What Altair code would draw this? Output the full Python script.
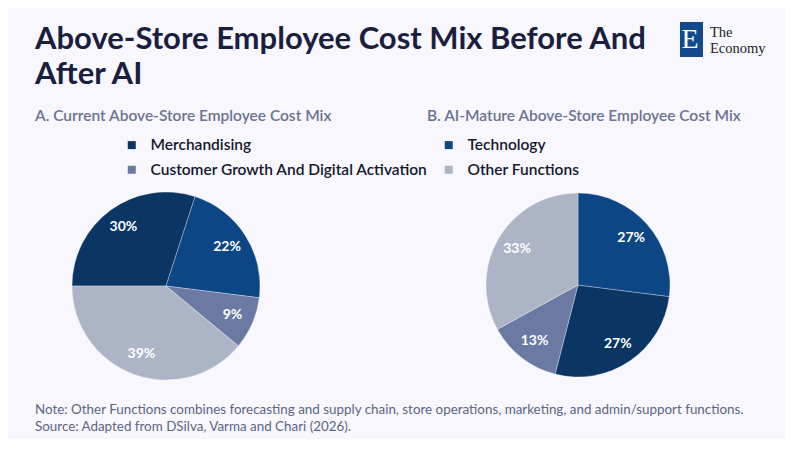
import math
import altair as alt
import pandas as pd

# ---- data ----
categories = ["Merchandising", "Technology", "Customer Growth And Digital Activation", "Other Functions"]
colors = ["#0b3563", "#0c4685", "#6a7aa2", "#adb4c6"]

current_values = [30, 22, 9, 39]          # order Merch, Tech, Cust, Other
current_order = [1, 2, 3, 4]
mature_values = [27, 27, 13, 33]
mature_order = [2, 1, 3, 4]               # Tech first, then Merch

title_lines = ["Above-Store Employee Cost Mix Before And", "After AI"]
panel_a_title = "A. Current Above-Store Employee Cost Mix"
panel_b_title = "B. AI-Mature Above-Store Employee Cost Mix"
notes = [
    "Note: Other Functions combines forecasting and supply chain, store operations, marketing, and admin/support functions.",
    "Source: Adapted from DSilva, Varma and Chari (2026).",
]

BG = "#f7f7fd"
FONT = "Lato"

df_a = pd.DataFrame({"category": categories, "value": current_values, "order": current_order})
df_a["label"] = df_a["value"].astype(str) + "%"
df_b = pd.DataFrame({"category": categories, "value": mature_values, "order": mature_order})
df_b["label"] = df_b["value"].astype(str) + "%"

color_enc = alt.Color(
    "category:N",
    scale=alt.Scale(domain=categories, range=colors),
    sort=categories,
    legend=alt.Legend(
        title=None,
        orient="none",
        direction="horizontal",
        legendX=89,
        legendY=117,
        columns=2,
        symbolType="square",
        symbolSize=64,
        symbolStrokeWidth=0,
        labelFont=FONT,
        labelFontSize=15.5,
        labelFontWeight=600,
        labelColor="#15182e",
        labelOffset=11,
        columnPadding=12,
        rowPadding=8,
        labelLimit=400,
    ),
)


def pie(df, radius, start, title, width, height):
    theta = alt.Theta("value:Q", stack=True,
                      scale=alt.Scale(range=[start, start + 2 * math.pi]))
    base = alt.Chart(df).encode(theta=theta, order=alt.Order("order:Q"))
    arcs = base.mark_arc(outerRadius=radius, stroke="#ffffff",
                         strokeWidth=0.6, strokeOpacity=0.5).encode(color=color_enc)
    text = base.mark_text(radius=radius * 0.77, font=FONT, fontSize=14,
                          fontWeight="bold", color="#ffffff").encode(text="label:N")
    return alt.layer(arcs, text).properties(
        width=width, height=height,
        title=alt.TitleParams(title, anchor="start", font=FONT, fontSize=15.5,
                              fontWeight=600, color="#6b7391", offset=62),
    )


pie_a = pie(df_a, 94, -math.pi / 2, panel_a_title, 262, 200)
pie_b = pie(df_b, 92, 0, panel_b_title, 302, 198)

# ---- header: title and logo ----
hdr_df = pd.DataFrame({"k": [0]})
hdr_title1 = alt.Chart(hdr_df).mark_text(text=title_lines[0], font=FONT, fontSize=31, fontWeight="bold",
                                         color="#1a1f40", align="left", baseline="alphabetic").encode(
    x=alt.value(0), y=alt.value(29))
hdr_title2 = alt.Chart(hdr_df).mark_text(text=title_lines[1], font=FONT, fontSize=31, fontWeight="bold",
                                         color="#1a1f40", align="left", baseline="alphabetic").encode(
    x=alt.value(0), y=alt.value(64))
logo_rect = alt.Chart(hdr_df).mark_rect(color="#134a8e").encode(
    x=alt.value(645), x2=alt.value(668), y=alt.value(2), y2=alt.value(37))
logo_e = alt.Chart(hdr_df).mark_text(text="E", font="Liberation Serif", fontSize=28,
                                     color="#ffffff", align="center", baseline="middle").encode(
    x=alt.value(655), y=alt.value(20))
logo_t1 = alt.Chart(hdr_df).mark_text(text="The", font="Liberation Serif", fontSize=14.5,
                                      color="#222222", align="left", baseline="alphabetic").encode(
    x=alt.value(675), y=alt.value(17))
logo_t2 = alt.Chart(hdr_df).mark_text(text="Economy", font="Liberation Serif", fontSize=14.5,
                                      color="#222222", align="left", baseline="alphabetic").encode(
    x=alt.value(675), y=alt.value(33))
header = alt.layer(hdr_title1, hdr_title2, logo_rect, logo_e, logo_t1, logo_t2).properties(
    width=738, height=79)

notes_df = pd.DataFrame({"i": list(range(len(notes))), "t": notes})
footer = alt.Chart(notes_df).mark_text(align="left", baseline="top", font=FONT,
                                       fontSize=13.4, color="#5d6583").encode(
    x=alt.value(0),
    y=alt.Y("i:O", axis=None, scale=alt.Scale(paddingInner=0, paddingOuter=0)),
    text="t:N",
).properties(width=695, height=33)

top = alt.hconcat(pie_a, pie_b, spacing=95)
chart = alt.vconcat(header, top, footer, spacing=9).properties(
    background=BG,
    padding={"left": 27, "top": 12, "right": 12, "bottom": 5},
).configure_view(stroke=None)

chart.save("out.html", embed_options={"renderer": "svg", "actions": False})
